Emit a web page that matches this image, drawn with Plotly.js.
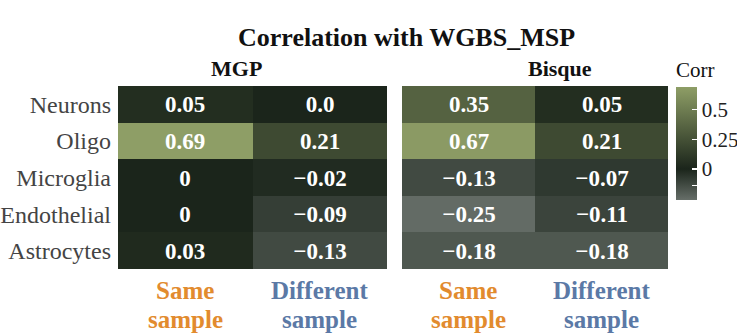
<!DOCTYPE html>
<html><head><meta charset="utf-8">
<script src="https://cdn.plot.ly/plotly-3.0.1.min.js"></script>
<style>html,body{margin:0;padding:0;background:#fff}</style>
</head><body>
<div id="chart" style="width:737px;height:334px"></div>
<script>
const cellTypes = ['Neurons','Oligo','Microglia','Endothelial','Astrocytes'];
const sampleCats = ['Same sample','Different sample'];
const mgpSame = [0.05, 0.69, 0, 0, 0.03];
const mgpDiff = [0.0, 0.21, -0.02, -0.09, -0.13];
const bisqueSame = [0.35, 0.67, -0.13, -0.25, -0.18];
const bisqueDiff = [0.05, 0.21, -0.07, -0.11, -0.18];
const mgpSameLbl = ['0.05','0.69','0','0','0.03'];
const mgpDiffLbl = ['0.0','0.21','\u22120.02','\u22120.09','\u22120.13'];
const bisqueSameLbl = ['0.35','0.67','\u22120.13','\u22120.25','\u22120.18'];
const bisqueDiffLbl = ['0.05','0.21','\u22120.07','\u22120.11','\u22120.18'];
const cbTickVals = [-0.14, 0, 0.25, 0.5];
const cbTickText = ['', '0', '0.25', '0.5'];

const zmin = -0.26, zmax = 0.69;
const zeroPos = (0 - zmin) / (zmax - zmin);
const colorscale = [[0, '#666e68'], [zeroPos, '#1b251b'], [1, '#8e9e66']];
const serif = 'Liberation Serif, Times New Roman, serif';

function grid(a, b) { return cellTypes.map((_, i) => [a[i], b[i]]); }

const common = {
  type: 'heatmap', x: sampleCats, y: cellTypes,
  zmin: zmin, zmax: zmax, colorscale: colorscale,
  texttemplate: '%{text}', xgap: 0, ygap: 0,
  textfont: {family: serif, size: 23, color: '#ffffff', weight: 'bold'},
  hoverinfo: 'skip'
};

const traces = [
  Object.assign({}, common, {
    z: grid(mgpSame, mgpDiff), text: grid(mgpSameLbl, mgpDiffLbl),
    xaxis: 'x', yaxis: 'y', showscale: false
  }),
  Object.assign({}, common, {
    z: grid(bisqueSame, bisqueDiff), text: grid(bisqueSameLbl, bisqueDiffLbl),
    xaxis: 'x2', yaxis: 'y2', showscale: true,
    colorbar: {
      x: 676/737, xanchor: 'left', y: 1 - 87/334, yanchor: 'top',
      thickness: 21, thicknessmode: 'pixels', len: 113, lenmode: 'pixels',
      outlinewidth: 0, ticks: 'inside', ticklen: 5, tickcolor: '#ffffff', tickwidth: 1.5,
      tickvals: cbTickVals, ticktext: cbTickText,
      tickfont: {family: serif, size: 21, color: '#222'}, xpad: 0, ypad: 0
    }
  })
];

const yTop = 1 - 86/334, yBot = 1 - 269/334;
const xaxisBase = {type: 'category', showgrid: false, zeroline: false, showticklabels: false, ticks: '', showline: false, fixedrange: true};
const yaxisBase = {type: 'category', autorange: 'reversed', showgrid: false, zeroline: false, ticks: '', showline: false, domain: [yBot, yTop]};

const colors = {'Same sample': '#e28b2e', 'Different sample': '#5b79a6'};
const annotations = [
  {text: '<b>Correlation with WGBS_MSP</b>', xref: 'paper', yref: 'paper', x: 406/737, y: 1 - 37/334, showarrow: false,
   font: {family: serif, size: 26, color: '#111'}, xanchor: 'center', yanchor: 'middle'},
  {text: '<b>MGP</b>', xref: 'paper', yref: 'paper', x: 236/737, y: 1 - 68/334, showarrow: false,
   font: {family: serif, size: 22, color: '#111'}, xanchor: 'center', yanchor: 'middle'},
  {text: '<b>Bisque</b>', xref: 'paper', yref: 'paper', x: 560/737, y: 1 - 68/334, showarrow: false,
   font: {family: serif, size: 22, color: '#111'}, xanchor: 'center', yanchor: 'middle'},
  {text: 'Corr', xref: 'paper', yref: 'paper', x: 674/737, y: 1 - 70/334, showarrow: false,
   font: {family: serif, size: 21, color: '#111'}, xanchor: 'left', yanchor: 'middle'}
];
['x', 'x2'].forEach(ax => {
  sampleCats.forEach(c => {
    const parts = c.split(' ');
    [[parts[0], 290], [parts[1], 319]].forEach(([t, py]) => {
      annotations.push({text: '<b>' + t + '</b>', xref: ax, yref: 'paper', x: c, y: 1 - py/334,
        showarrow: false, xanchor: 'center', yanchor: 'middle',
        font: {family: serif, size: 25, color: colors[c]}});
    });
  });
});

const layout = {
  width: 737, height: 334, margin: {l: 0, r: 0, t: 0, b: 0, autoexpand: false},
  paper_bgcolor: '#ffffff', plot_bgcolor: '#ffffff', showlegend: false,
  xaxis: Object.assign({}, xaxisBase, {domain: [118/737, 387/737], anchor: 'y'}),
  yaxis: Object.assign({}, yaxisBase, {anchor: 'x', showticklabels: true, ticklabelstandoff: 6,
    tickfont: {family: serif, size: 24, color: '#444'}}),
  xaxis2: Object.assign({}, xaxisBase, {domain: [402/737, 668/737], anchor: 'y2'}),
  yaxis2: Object.assign({}, yaxisBase, {anchor: 'x2', showticklabels: false}),
  annotations: annotations
};

Plotly.newPlot('chart', traces, layout, {displayModeBar: false, staticPlot: true});
</script>
</body></html>
